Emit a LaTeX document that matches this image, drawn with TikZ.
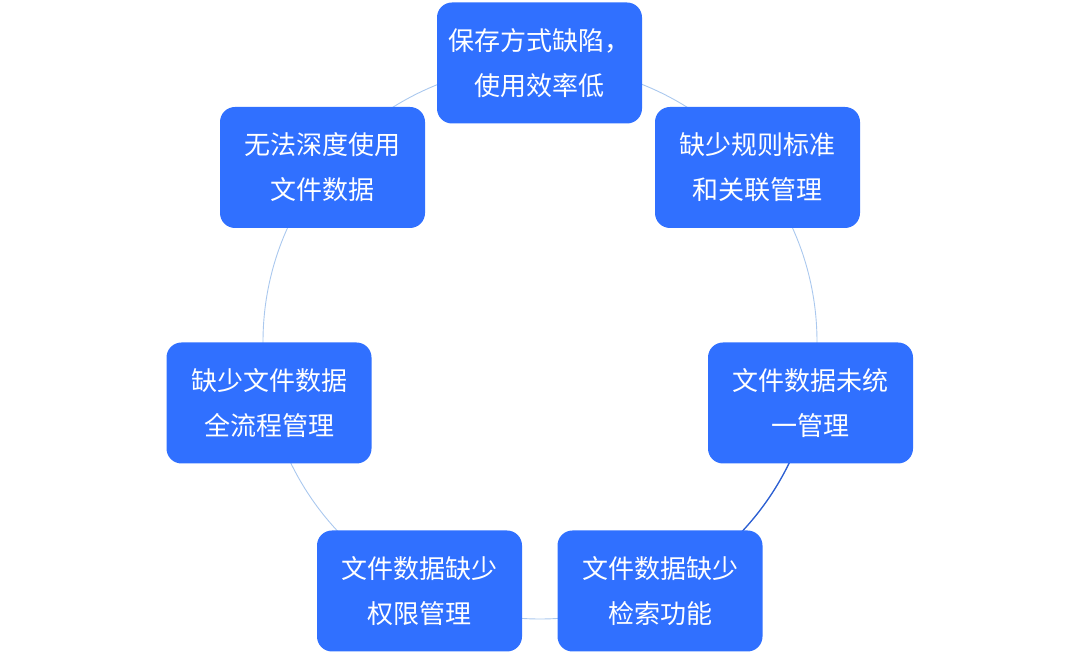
\documentclass[tikz,border=0pt]{standalone}
\usepackage{fontspec}
\setmainfont{Noto Sans CJK SC}
\begin{document}
\begin{tikzpicture}[x=1pt,y=1pt,
  box/.style={draw=none,fill=boxblue,rounded corners=15pt,minimum width=205pt,minimum height=121pt,
    text=white,align=center,font=\fontsize{26}{45}\selectfont,inner sep=0pt},
  ring/.style={draw=ringlight,line width=0.9pt},
  ringdark/.style={draw=ringdark,line width=1.3pt}]
\definecolor{boxblue}{RGB}{48,112,255}
\definecolor{ringlight}{RGB}{170,200,238}
\definecolor{ringdark}{RGB}{45,95,210}
\useasboundingbox (0,0) rectangle (1080,664);
\coordinate (c) at (540,322);
\draw[ring] (c) circle (277);
\draw[ringdark] (c) ++(-22:277) arc (-22:-47:277);
\node[box] (b1) at (539.5,601) {保存方式缺陷，\\使用效率低};
\node[box] (b2) at (757.5,496.5) {缺少规则标准\\和关联管理};
\node[box] (b3) at (810.5,261) {文件数据未统\\一管理};
\node[box] (b4) at (660,73) {文件数据缺少\\检索功能};
\node[box] (b5) at (419.5,73) {文件数据缺少\\权限管理};
\node[box] (b6) at (269,261) {缺少文件数据\\全流程管理};
\node[box] (b7) at (322.5,496.5) {无法深度使用\\文件数据};
\end{tikzpicture}
\end{document}
